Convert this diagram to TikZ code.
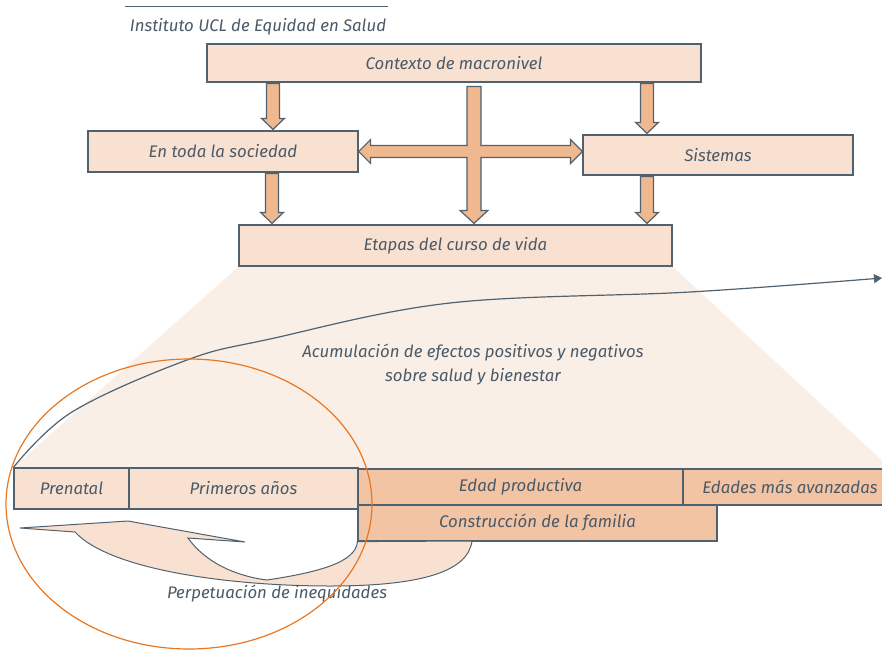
\documentclass[tikz,border=0pt]{standalone}
\usepackage{fontspec}
\setmainfont{Fira Sans}
\usetikzlibrary{calc}
\usetikzlibrary{arrows.meta}
\usetikzlibrary{backgrounds}
\definecolor{linec}{HTML}{506270}
\definecolor{txtc}{HTML}{4A5A68}
\definecolor{boxc}{HTML}{F9E1D2}
\definecolor{darkc}{HTML}{F2C4A4}
\definecolor{arrc}{HTML}{F0B88E}
\definecolor{fanc}{HTML}{FAEFE6}
\definecolor{ovalc}{HTML}{E87722}
\newcommand{\fatdown}[3]{%
\draw[fat] let \p1=(#2.south), \p2=(#3.north), \p3=(#1,0) in
 (\x3-6.5pt,\y1-1pt) -- (\x3+6.5pt,\y1-1pt) -- (\x3+6.5pt,\y2+12pt) -- (\x3+11.5pt,\y2+12pt)
 -- (\x3,\y2+1pt) -- (\x3-11.5pt,\y2+12pt) -- (\x3-6.5pt,\y2+12pt) -- cycle;}

\begin{document}
\begin{tikzpicture}[x=1pt,y=-1pt,
 lbl/.style={text=txtc, font=\itshape\fontsize{16.8}{24}\selectfont, inner sep=0pt},
 box/.style={lbl, draw=linec, fill=boxc, line width=1.2pt},
 darkbox/.style={box, fill=darkc},
 fat/.style={draw=linec, fill=arrc, line width=1.2pt, line join=miter}]
\useasboundingbox (0,0) rectangle (882,650);
\clip (0,0) rectangle (882,650);
\draw[linec, line width=1pt] (125,7) -- (388,7);
\node[lbl] (ttl) at (258,27) {Instituto UCL de Equidad en Salud};
\node[box, minimum width=494, minimum height=38] (ctx) at (454,63) {Contexto de macronivel};
\node[box, minimum width=270, minimum height=41] (soc) at (223,151.5) {En toda la sociedad};
\node[box, minimum width=270, minimum height=40] (sys) at (718,155) {Sistemas};
\node[box, minimum width=433, minimum height=41] (etp) at (455.5,245.5) {Etapas del curso de vida};
\foreach \nm/\cx/\w/\t in {pre/71.5/115/Prenatal, pri/243.5/229/Primeros años} {
 \node[box, minimum width=\w, minimum height=41] (\nm) at (\cx,488.5) {\t};
}
\node[darkbox, minimum width=325, minimum height=36] (edp) at (520.5,487) {Edad productiva};
\node[darkbox, minimum width=207, minimum height=36] (mas) at (786.5,487) {\hspace*{7pt}Edades más avanzadas};
\node[darkbox, minimum width=359, minimum height=36] (fam) at (537.5,523) {Construcción de la familia};
\coordinate (fin) at (882,278);
\begin{scope}[on background layer]
\fill[fanc] (etp.south west) -- (etp.south east) -- (mas.north east) -- (pre.north west) -- cycle;
\draw[linec, line width=1.2pt, -{Triangle[length=8pt,width=9pt]}] plot[smooth, tension=0.6]
 coordinates {(pre.north west) (72,412) (187,360) (270,339) (450,303) (690,292) (fin)};
\end{scope}
\node[lbl, align=center] (acu) at (473,365) {Acumulación de efectos positivos y negativos\\sobre salud y bienestar};
\draw[draw=linec, fill=boxc, line width=1pt] (fam.south west) -- (472,541)
 .. controls (468,572) and (420,586) .. (330,586)
 .. controls (230,586) and (110,570) .. (75,532) -- (20,528) -- (128,521) -- (245,542) -- (188,538)
 .. controls (205,562) and (235,576) .. (267,580)
 .. controls (320,572) and (356,562) .. (fam.south west) -- cycle;
\node[lbl] (per) at (277,594) {Perpetuación de inequidades};
\fatdown{273}{ctx}{soc}
\fatdown{647}{ctx}{sys}
\fatdown{272}{soc}{etp}
\fatdown{647}{sys}{etp}
\draw[fat] let \p1=(soc.east), \p2=(sys.west), \p3=(ctx.south), \p4=(etp.north), \p5=(474,0) in
 (\x5-7pt,\y3-4pt) -- (\x5+7pt,\y3-4pt) -- (\x5+7pt,\y1+6pt) -- (\x2-12pt,\y1+6pt) -- (\x2-12pt,\y1+12pt)
 -- (\x2,\y1) -- (\x2-12pt,\y1-12pt) -- (\x2-12pt,\y1-6pt) -- (\x5+7pt,\y1-6pt) -- (\x5+7pt,\y4+14pt)
 -- (\x5+14pt,\y4+14pt) -- (\x5,\y4+1pt) -- (\x5-14pt,\y4+14pt) -- (\x5-7pt,\y4+14pt) -- (\x5-7pt,\y1-6pt)
 -- (\x1+12pt,\y1-6pt) -- (\x1+12pt,\y1-12pt) -- (\x1,\y1) -- (\x1+12pt,\y1+12pt) -- (\x1+12pt,\y1+6pt)
 -- (\x5-7pt,\y1+6pt) -- cycle;
\draw[ovalc, line width=1.2pt] (189,504) ellipse [x radius=183, y radius=145];
\end{tikzpicture}
\end{document}
